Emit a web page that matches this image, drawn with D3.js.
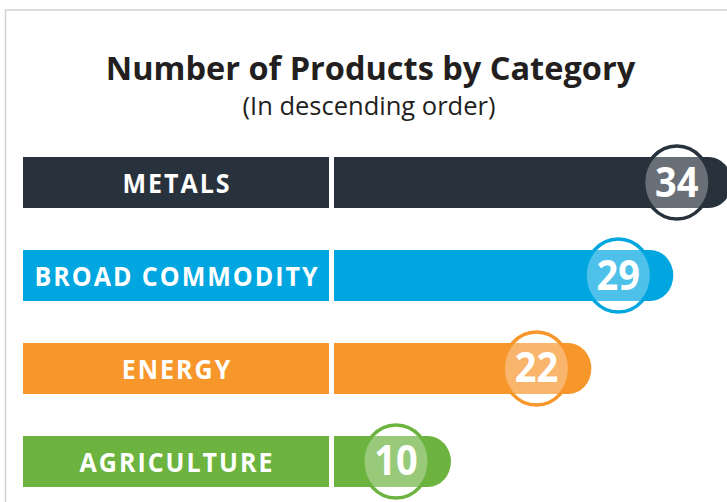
<!DOCTYPE html>
<html>
<head>
<meta charset="utf-8">
<script src="https://cdn.jsdelivr.net/npm/d3@7"></script>
<style>
  body { margin: 0; background: #fff; }
  svg { display: block; }
  .titulo { font-family: "Open Sans", sans-serif; font-weight: 700; fill: #231f20; }
  .sub { font-family: "Open Sans", sans-serif; font-weight: 400; fill: #231f20; }
  .cat { font-family: "Open Sans", sans-serif; font-weight: 700; fill: #fff; }
  .num { font-family: "Open Sans", sans-serif; font-weight: 700; fill: #fff; }
</style>
</head>
<body>
<div id="graf"></div>
<script>
// Datos
const categorias = ["METALS", "BROAD COMMODITY", "ENERGY", "AGRICULTURE"]
const valores = [34, 29, 22, 10]
const colores = ["#27323c", "#00a6e0", "#f7962b", "#6cb43f"]

const titulo = "Number of Products by Category"
const subtitulo = "(In descending order)"

// Dimensiones
const anchoTotal = 727
const altoTotal = 502
const sy = 1.06 // the picture is a bit taller than wide

const svg = d3.select("#graf")
  .append("svg")
  .attr("width", anchoTotal)
  .attr("height", altoTotal)

// marco
svg.append("path")
  .attr("d", `M5.5,${altoTotal} V10 H${anchoTotal}`)
  .attr("fill", "none")
  .attr("stroke", "#d2d2d2")
  .attr("stroke-width", 1.5)

// Títulos
svg.append("text")
  .attr("class", "titulo")
  .attr("text-anchor", "middle")
  .attr("x", 370.5)
  .attr("y", 80)
  .style("font-size", "32.5px")
  .text(titulo)

svg.append("text")
  .attr("class", "sub")
  .attr("text-anchor", "middle")
  .attr("x", 369)
  .attr("y", 115)
  .style("font-size", "25.5px")
  .text(subtitulo)

const datos = categorias.map((c, i) => ({ cat: c, valor: valores[i], color: colores[i] }))

// Escaladores
const x = d3.scaleLinear().domain([0, 34]).range([334, 731.8])
const y = d3.scaleBand()
  .domain(categorias)
  .range([157, 487])
  .paddingInner(0.4516)
  .paddingOuter(0)

const labelX0 = 23
const labelX1 = 329
const h = y.bandwidth()
const capRx = 23
const rx = 35
const ry = 38.5
const offset = 55

const filas = svg.selectAll("g.fila")
  .data(datos)
  .join("g")
  .attr("class", "fila")

// caja de etiqueta
filas.append("rect")
  .attr("x", labelX0)
  .attr("y", (d) => y(d.cat))
  .attr("width", labelX1 - labelX0)
  .attr("height", h)
  .attr("fill", (d) => d.color)

filas.append("text")
  .attr("class", "cat")
  .attr("text-anchor", "middle")
  .attr("transform", (d) => `translate(${(labelX0 + labelX1) / 2 + 1}, ${y(d.cat) + h / 2 + 10.5}) scale(1, ${sy})`)
  .style("font-size", "25px")
  .style("letter-spacing", "2px")
  .text((d) => d.cat)

// barra con punta redondeada
filas.append("path")
  .attr("d", (d) => {
    const x0 = x(0)
    const xe = x(d.valor)
    const y0 = y(d.cat)
    return `M${x0},${y0} H${xe - capRx} A${capRx},${h / 2} 0 0 1 ${xe - capRx},${y0 + h} H${x0} Z`
  })
  .attr("fill", (d) => d.color)

// círculo con el valor
filas.append("ellipse")
  .attr("cx", (d) => x(d.valor) - offset)
  .attr("cy", (d) => y(d.cat) + h / 2)
  .attr("rx", rx - 1.75)
  .attr("ry", ry - 2)
  .attr("fill", "#fff")
  .attr("fill-opacity", 0.3)
  .attr("stroke", (d) => d.color)
  .attr("stroke-width", 3.5)

filas.append("text")
  .attr("class", "num")
  .attr("text-anchor", "middle")
  .attr("transform", (d) => `translate(${x(d.valor) - offset}, ${y(d.cat) + h / 2 + 14}) scale(1, ${sy})`)
  .style("font-size", "38px")
  .text((d) => d.valor)
</script>
</body>
</html>
